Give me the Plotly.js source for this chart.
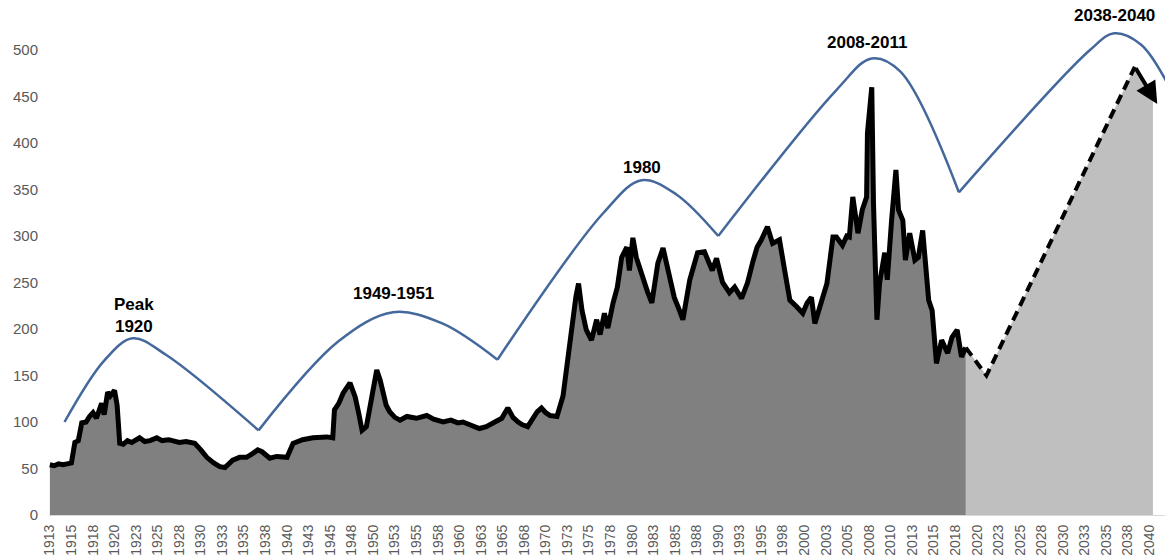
<!DOCTYPE html>
<html>
<head>
<meta charset="utf-8">
<script src="https://cdn.plot.ly/plotly-3.0.1.min.js"></script>
<style>html,body{margin:0;padding:0;background:#fff;}#chart{width:1165px;height:559px;}</style>
</head>
<body>
<div id="chart"></div>
<script>
// Historical index (year, value)
const histYears = [1913.0,1913.5,1914.0,1914.5,1915.0,1915.5,1915.9,1916.3,1916.7,1917.2,1917.6,1918.0,1918.4,1918.7,1919.0,1919.3,1919.7,1920.0,1920.5,1920.8,1921.1,1921.5,1922.0,1922.5,1923.0,1923.4,1924.0,1924.6,1925.4,1926.0,1926.8,1927.5,1928.0,1928.8,1929.4,1929.8,1930.5,1931.2,1932.0,1932.7,1933.3,1933.8,1934.2,1935.0,1935.8,1936.5,1937.1,1937.6,1938.5,1939.3,1940.5,1941.2,1942.3,1943.5,1944.5,1945.1,1945.8,1946.0,1946.5,1947.0,1947.8,1948.4,1948.8,1949.2,1949.7,1950.1,1950.5,1950.9,1951.3,1951.6,1952.0,1952.4,1953.0,1953.6,1954.4,1955.5,1956.7,1957.5,1958.6,1959.5,1960.3,1960.9,1961.8,1962.8,1963.6,1964.4,1965.4,1966.1,1966.7,1967.3,1967.8,1968.4,1969.0,1969.5,1970.0,1970.5,1971.0,1971.8,1972.5,1973.0,1973.5,1974.0,1974.3,1974.7,1975.2,1975.8,1976.4,1976.8,1977.3,1977.7,1978.3,1978.8,1979.3,1979.9,1980.2,1980.6,1981.0,1981.7,1982.3,1982.8,1983.5,1984.1,1984.6,1985.4,1986.0,1986.4,1987.2,1988.1,1988.9,1989.4,1989.8,1990.3,1991.0,1991.8,1992.4,1993.2,1993.9,1994.5,1995.0,1995.5,1996.2,1996.8,1997.6,1998.2,1998.8,1999.6,2000.3,2000.8,2001.3,2001.7,2002.5,2003.1,2003.8,2004.2,2004.9,2005.4,2005.7,2006.1,2006.7,2007.2,2007.7,2007.8,2008.3,2008.5,2008.9,2009.2,2009.8,2010.1,2010.6,2011.1,2011.4,2011.9,2012.2,2012.7,2013.3,2013.7,2014.2,2014.5,2014.9,2015.3,2015.8,2016.4,2017.1,2017.6,2018.2,2018.7,2019.2];
const histValues = [54,53,55,54,55,56,78,80,99,100,106,110,104,112,120,108,132,128,134,118,77,76,80,78,81,83,79,80,83,80,81,79,78,79,78,77,70,62,56,52,51,55,59,62,62,66,70,68,61,63,62,77,81,83,84,84,83,113,120,131,142,127,110,91,95,115,138,156,145,134,118,111,105,102,106,104,107,103,100,102,99,100,96,93,95,99,104,115,105,100,97,95,103,111,115,110,107,106,128,167,200,235,249,220,199,188,210,194,217,201,228,245,277,288,263,298,277,256,240,228,271,287,267,234,220,210,253,282,283,270,263,276,250,239,245,233,250,272,288,296,310,292,296,263,231,224,217,228,234,206,231,249,299,299,290,300,299,342,303,328,342,411,460,335,210,249,282,253,317,371,328,317,274,303,274,277,306,277,231,220,163,188,174,191,199,170,180];

// Forecast path
const fcYears = [2019.2, 2021.6, 2038.8];
const fcValues = [180, 150, 482];
const fcFillYears = [2019.2, 2021.6, 2038.8, 2040.9];
const fcFillValues = [180, 150, 482, 450];
const arrowEnd = {year: 2041.4, value: 442};

// Long-wave cycle curve (each arc from trough to trough)
const waveYears = [
  [1914.7,1919.3,1922.6,1926.5,1937.2],
  [1937.2,1946.5,1952.8,1958.5,1964.9],
  [1964.9,1977.2,1981.6,1985.6,1990.5],
  [1990.5,2004.2,2008.3,2011.6,2018.4],
  [2018.4,2033.6,2036.4,2039.5,2042.7]
];
const waveValues = [
  [100,166,190,172,91],
  [91,187,218,206,167],
  [167,325,360,345,300],
  [300,457,491,477,347],
  [347,500,518,506,462]
];

// Peak labels
const peakLabels = ["<b>Peak<br>1920</b>","<b>1949-1951</b>","<b>1980</b>","<b>2008-2011</b>","<b>2038-2040</b>"];
const peakLabelYears = [1922.8, 1952.9, 1981.7, 2007.7, 2036.5];
const peakLabelValues = [215, 238, 374, 508, 537];

// Axis ticks
const xTickVals = [1913,1915.5,1918,1920.5,1923,1925.5,1928,1930.5,1933,1935.5,1938,1940.5,1943,1945.5,1948,1950.5,1953,1955.5,1958,1960.5,1963,1965.5,1968,1970.5,1973,1975.5,1978,1980.5,1983,1985.5,1988,1990.5,1993,1995.5,1998,2000.5,2003,2005.5,2008,2010.5,2013,2015.5,2018,2020.5,2023,2025.5,2028,2030.5,2033,2035.5,2038,2040.5];
const xTickText = ["1913","1915","1918","1920","1923","1925","1928","1930","1933","1935","1938","1940","1943","1945","1948","1950","1953","1955","1958","1960","1963","1965","1968","1970","1973","1975","1978","1980","1983","1985","1988","1990","1993","1995","1998","2000","2003","2005","2008","2010","2013","2015","2018","2020","2023","2025","2028","2030","2033","2035","2038","2040"];
const yTickVals = [0,50,100,150,200,250,300,350,400,450,500];

const traces = [];
traces.push({
  x: fcFillYears, y: fcFillValues, type: 'scatter', mode: 'lines',
  fill: 'tozeroy', fillcolor: '#bfbfbf', line: {width: 0, color: '#bfbfbf'},
  hoverinfo: 'skip', showlegend: false
});
traces.push({
  x: histYears, y: histValues, type: 'scatter', mode: 'lines',
  fill: 'tozeroy', fillcolor: '#808080', line: {width: 5, color: '#000000'},
  showlegend: false
});
traces.push({
  x: fcYears, y: fcValues, type: 'scatter', mode: 'lines',
  line: {width: 4, color: '#000000', dash: '10px,6px'},
  showlegend: false
});
for (let i = 0; i < waveYears.length; i++) {
  traces.push({
    x: waveYears[i], y: waveValues[i], type: 'scatter', mode: 'lines',
    line: {width: 2.5, color: '#44689c', shape: 'spline', smoothing: 1.0},
    showlegend: false
  });
}

const annotations = peakLabels.map((t, i) => ({
  x: peakLabelYears[i], y: peakLabelValues[i], xref: 'x', yref: 'y',
  text: t, showarrow: false,
  font: {family: 'Liberation Sans, Arial, sans-serif', size: 17, color: '#000'}
}));
annotations.push({
  x: arrowEnd.year, y: arrowEnd.value, xref: 'x', yref: 'y',
  ax: fcYears[2], ay: fcValues[2], axref: 'x', ayref: 'y',
  text: '', showarrow: true, arrowhead: 2, arrowsize: 1.1, arrowwidth: 4, arrowcolor: '#000'
});

const layout = {
  width: 1165, height: 559,
  margin: {l: 49, r: 0, t: 0, b: 44, pad: 0},
  paper_bgcolor: '#ffffff', plot_bgcolor: '#ffffff',
  showlegend: false,
  font: {family: 'Liberation Sans, Arial, sans-serif', color: '#595959'},
  xaxis: {
    range: [1912.9, 2042.3], tickmode: 'array', tickvals: xTickVals, ticktext: xTickText,
    tickangle: -90, showgrid: false, zeroline: false, showline: true, linecolor: '#d9d9d9', linewidth: 1,
    ticks: '', tickfont: {size: 14, color: '#595959'}, ticklabelstandoff: 3
  },
  yaxis: {
    range: [0, 553.8], tickmode: 'array', tickvals: yTickVals,
    showgrid: false, zeroline: false, showline: false, ticks: '',
    tickfont: {size: 15, color: '#595959'}, ticklabelstandoff: 10
  },
  annotations: annotations
};

Plotly.newPlot('chart', traces, layout, {displayModeBar: false, staticPlot: true});
</script>
</body>
</html>
